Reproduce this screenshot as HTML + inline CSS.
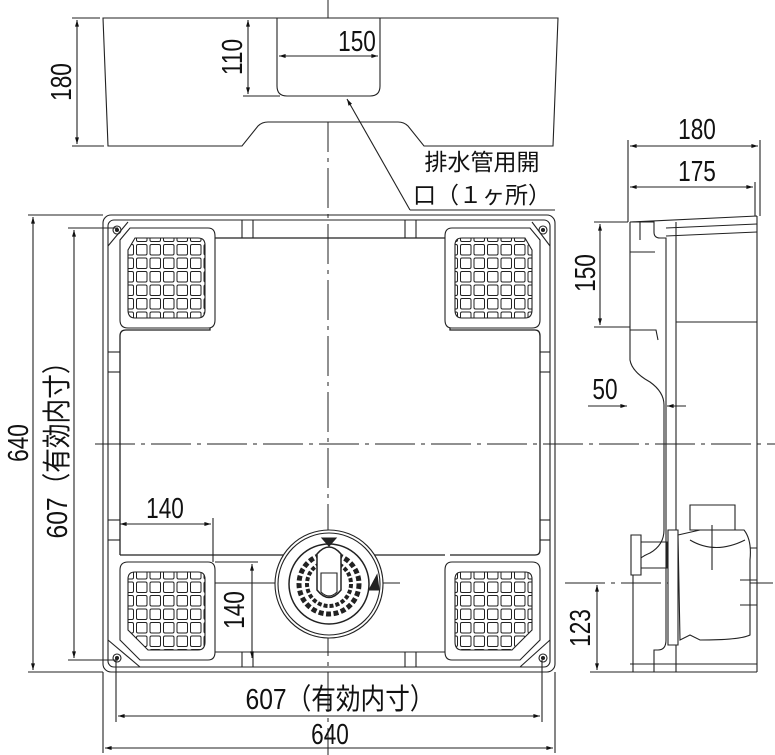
<!DOCTYPE html>
<html><head><meta charset="utf-8"><style>
html,body{margin:0;padding:0;background:#fff;width:775px;height:755px;overflow:hidden}
svg{display:block}
text{font-family:"Liberation Sans Narrow","Liberation Sans","Noto Sans CJK JP",sans-serif;fill:#111}
</style></head><body>
<svg width="775" height="755" viewBox="0 0 775 755" xmlns="http://www.w3.org/2000/svg">
<defs>
<marker id="a" viewBox="0 0 10 10" refX="10" refY="5" markerWidth="9" markerHeight="6" orient="auto-start-reverse"><path d="M0,2 L10,5 L0,8 z" fill="#111"/></marker>
<pattern id="g" x="0" y="0" width="13.5" height="13.5" patternUnits="userSpaceOnUse"><rect x="1.5" y="1.5" width="10.5" height="10.5" rx="1.5" fill="#fff" stroke="#222" stroke-width="1"/></pattern>
</defs>
<g fill="none" stroke="#222" stroke-width="1.1">
<line x1="328" y1="0" x2="328" y2="755" stroke-dasharray="40,6,4,6" stroke-width="1"/>
<line x1="95" y1="444" x2="775" y2="444" stroke-dasharray="40,6,4,6" stroke-width="1"/>
<line x1="565" y1="583" x2="775" y2="583" stroke-dasharray="40,6,4,6" stroke-width="1"/>
<line x1="215" y1="583" x2="400" y2="583" stroke-width="1"/>

<path d="M103,18 L558,18 L553,146 L424,146 L408,126 Q404,122 398,122 L268,122 Q262,122 258,126 L242,146 L108,146 Z" fill="#fff"/>
<path d="M277,18 L277,86 Q277,96 287,96 L370,96 Q380,96 380,86 L380,18"/>
<line x1="72" y1="18" x2="100" y2="18"/><line x1="72" y1="146" x2="104" y2="146"/>
<line x1="77" y1="20" x2="77" y2="144" marker-start="url(#a)" marker-end="url(#a)"/>
<line x1="243" y1="96" x2="280" y2="96"/>
<line x1="248" y1="20" x2="248" y2="94" marker-start="url(#a)" marker-end="url(#a)"/>
<line x1="279" y1="56" x2="378" y2="56" marker-start="url(#a)" marker-end="url(#a)"/>
<path d="M410,210 L555,210"/>
<line x1="410" y1="210" x2="347" y2="99" marker-end="url(#a)"/>

<rect x="103" y="215" width="452" height="457" rx="8"/>
<rect x="108" y="220" width="442" height="447" rx="6"/>
<path d="M215,238 L445,238 Q450,238 450,243 L450,330 L535,330 Q540,330 540,336 L540,550 Q540,555 535,555 L450,555 M120,555 L120,336 Q120,330 126,330 L210,330 L210,243 Q210,238 215,238 M120,555 L215,555 M215,555 L445,555" stroke-width="1.3"/>
<line x1="108" y1="352" x2="120" y2="352"/><line x1="108" y1="372" x2="120" y2="372"/>
<line x1="540" y1="352" x2="550" y2="352"/><line x1="540" y1="372" x2="550" y2="372"/>
<line x1="108" y1="520" x2="120" y2="520"/><line x1="108" y1="540" x2="120" y2="540"/>
<line x1="540" y1="520" x2="550" y2="520"/><line x1="540" y1="540" x2="550" y2="540"/>
<line x1="242" y1="220" x2="242" y2="238"/><line x1="253" y1="220" x2="253" y2="238"/>
<line x1="405" y1="220" x2="405" y2="238"/><line x1="416" y1="220" x2="416" y2="238"/>
<line x1="242" y1="652" x2="242" y2="667"/><line x1="253" y1="652" x2="253" y2="667"/>
<line x1="405" y1="652" x2="405" y2="667"/><line x1="416" y1="652" x2="416" y2="667"/>
<line x1="215" y1="652" x2="445" y2="652"/>

<path d="M130,228 L208,228 Q215,228 215,236 L215,320 Q215,328 208,328 L128,328 Q120,328 120,320 L120,240 Z" fill="#fff"/>
<path d="M135,238 L198,238 Q205,238 205,245 L205,310 Q205,318 198,318 L135,318 Q128,318 128,310 L128,250 Z" fill="url(#g)"/>
<path d="M530,228 L452,228 Q445,228 445,236 L445,320 Q445,328 452,328 L532,328 Q540,328 540,320 L540,240 Z" fill="#fff"/>
<path d="M525,238 L462,238 Q455,238 455,245 L455,310 Q455,318 462,318 L525,318 Q532,318 532,310 L532,250 Z" fill="url(#g)"/>
<path d="M128,562 L208,562 Q215,562 215,570 L215,652 Q215,660 208,660 L140,660 L120,640 L120,570 Q120,562 128,562 Z" fill="#fff"/>
<path d="M135,572 L198,572 Q205,572 205,579 L205,642 Q205,650 198,650 L148,650 L128,630 L128,579 Q128,572 135,572 Z" fill="url(#g)"/>
<path d="M532,562 L452,562 Q445,562 445,570 L445,652 Q445,660 452,660 L520,660 L540,640 L540,570 Q540,562 532,562 Z" fill="#fff"/>
<path d="M525,572 L462,572 Q455,572 455,579 L455,642 Q455,650 462,650 L512,650 L532,630 L532,579 Q532,572 525,572 Z" fill="url(#g)"/>
<line x1="108" y1="640" x2="140" y2="667"/><line x1="550" y1="640" x2="520" y2="667"/>
<line x1="108" y1="246" x2="128" y2="222"/><line x1="550" y1="246" x2="532" y2="222"/>
<circle cx="117" cy="230" r="4"/><circle cx="117" cy="230" r="1.5" fill="#222"/>
<circle cx="543" cy="230" r="4"/><circle cx="543" cy="230" r="1.5" fill="#222"/>
<circle cx="117" cy="658" r="4"/><circle cx="117" cy="658" r="1.5" fill="#222"/>
<circle cx="543" cy="658" r="4"/><circle cx="543" cy="658" r="1.5" fill="#222"/>

<circle cx="329" cy="584" r="54" fill="#fff"/>
<circle cx="329" cy="584" r="51"/>
<circle cx="329" cy="584" r="40" stroke-width="1.5"/>
<circle cx="329" cy="584" r="30" stroke-width="5" stroke-dasharray="5,2.5"/>
<circle cx="329" cy="584" r="22" stroke-width="4" stroke-dasharray="4,2"/>
<path d="M317,554 Q329,540 341,554 L341,590 Q329,605 317,590 Z" fill="#fff" stroke-width="1.5"/>
<path d="M321,573 L337,573 L337,592 Q329,600 321,592 Z"/>
<path d="M322,538 L336,538 L329,546 Z" fill="#222"/>
<path d="M369,590 L377,575 L379,590 Z" fill="#222"/>

<line x1="28" y1="215" x2="103" y2="215"/><line x1="28" y1="672" x2="103" y2="672"/>
<line x1="33" y1="217" x2="33" y2="670" marker-start="url(#a)" marker-end="url(#a)"/>
<line x1="68" y1="228" x2="118" y2="228"/><line x1="68" y1="660" x2="118" y2="660"/>
<line x1="74" y1="230" x2="74" y2="658" marker-start="url(#a)" marker-end="url(#a)"/>
<line x1="103" y1="672" x2="103" y2="753"/><line x1="555" y1="672" x2="555" y2="753"/>
<line x1="105" y1="748" x2="553" y2="748" marker-start="url(#a)" marker-end="url(#a)"/>
<line x1="116" y1="660" x2="116" y2="722"/><line x1="542" y1="660" x2="542" y2="722"/>
<line x1="118" y1="716" x2="540" y2="716" marker-start="url(#a)" marker-end="url(#a)"/>
<line x1="213" y1="518" x2="213" y2="562"/>
<line x1="120" y1="524" x2="211" y2="524" marker-start="url(#a)" marker-end="url(#a)"/>
<line x1="215" y1="562" x2="258" y2="562"/>
<line x1="252" y1="564" x2="252" y2="658" marker-start="url(#a)" marker-end="url(#a)"/>

<path d="M630,222 L757,216 M757,216 L757,672 M630,672 L757,672"/>
<path d="M630,222 L630,360 Q632,372 650,382 Q664,392 664,405 L664,530 Q664,545 650,553 Q633,560 633,572 L633,672" />
<path d="M630,222 L654,222 L654,232 Q654,238 660,238 L666,238 L666,640 Q666,650 658,650 L654,650 L654,672"/>
<path d="M640,222 L640,240 M630,252 L655,252 M630,330 L656,330 L658,340"/>
<line x1="676" y1="222" x2="676" y2="672"/>
<line x1="666" y1="228" x2="757" y2="224"/><line x1="666" y1="236" x2="757" y2="232"/>
<line x1="676" y1="322" x2="757" y2="322"/><line x1="676" y1="548" x2="757" y2="548"/>
<line x1="630" y1="664" x2="757" y2="664"/>
<path d="M631,535 L641,535 L641,575 L631,575 Z" fill="#fff"/>
<path d="M641,542 L667,542 L667,568 L641,568"/>
<path d="M668,530 L678,530 L678,645 L668,645 Z" fill="#fff"/>
<path d="M678,535 L700,530 L744,530 Q752,540 750,560 L750,635 Q740,640 700,640 L690,635 L680,640 Z" fill="#fff"/>
<path d="M690,505 L735,505 L735,530 L690,530 Z" fill="#fff"/>
<line x1="712" y1="525" x2="712" y2="570"/>
<path d="M690,540 Q715,555 745,540"/>
<path d="M740,580 L757,580 M740,605 L757,605"/>
<line x1="628" y1="140" x2="628" y2="222"/><line x1="760" y1="140" x2="760" y2="216"/>
<line x1="630" y1="146" x2="758" y2="146" marker-start="url(#a)" marker-end="url(#a)"/>
<line x1="755" y1="182" x2="755" y2="216"/>
<line x1="630" y1="187" x2="753" y2="187" marker-start="url(#a)" marker-end="url(#a)"/>
<line x1="594" y1="222" x2="628" y2="222"/><line x1="594" y1="327" x2="630" y2="327"/>
<line x1="600" y1="224" x2="600" y2="325" marker-start="url(#a)" marker-end="url(#a)"/>
<line x1="588" y1="406" x2="627" y2="406" marker-end="url(#a)"/>
<line x1="686" y1="406" x2="667" y2="406" marker-end="url(#a)"/>
<line x1="590" y1="672" x2="630" y2="672"/>
<line x1="597" y1="585" x2="597" y2="670" marker-start="url(#a)" marker-end="url(#a)"/>
</g>

<g font-size="29">
<text transform="translate(357,51) scale(0.78,1)" text-anchor="middle">150</text>
<text transform="translate(242,57) rotate(-90) scale(0.78,1)" text-anchor="middle">110</text>
<text transform="translate(71,82) rotate(-90) scale(0.78,1)" text-anchor="middle">180</text>
<text x="482" y="170" text-anchor="middle" font-size="23">排水管用開</text>
<text x="482" y="203" text-anchor="middle" font-size="23">口（１ヶ所）</text>
<text transform="translate(28,443) rotate(-90) scale(0.78,1)" text-anchor="middle">640</text>
<text transform="translate(67,444) rotate(-90) scale(0.85,1)" text-anchor="middle">607（有効内寸）</text>
<text transform="translate(340,709) scale(0.85,1)" text-anchor="middle">607（有効内寸）</text>
<text transform="translate(330,744) scale(0.78,1)" text-anchor="middle">640</text>
<text transform="translate(165,518) scale(0.78,1)" text-anchor="middle">140</text>
<text transform="translate(244,610) rotate(-90) scale(0.78,1)" text-anchor="middle">140</text>
<text transform="translate(697,139) scale(0.78,1)" text-anchor="middle">180</text>
<text transform="translate(697,181) scale(0.78,1)" text-anchor="middle">175</text>
<text transform="translate(595,273) rotate(-90) scale(0.78,1)" text-anchor="middle">150</text>
<text transform="translate(605,399) scale(0.78,1)" text-anchor="middle">50</text>
<text transform="translate(590,628) rotate(-90) scale(0.78,1)" text-anchor="middle">123</text>
</g>
</svg>
</body></html>
